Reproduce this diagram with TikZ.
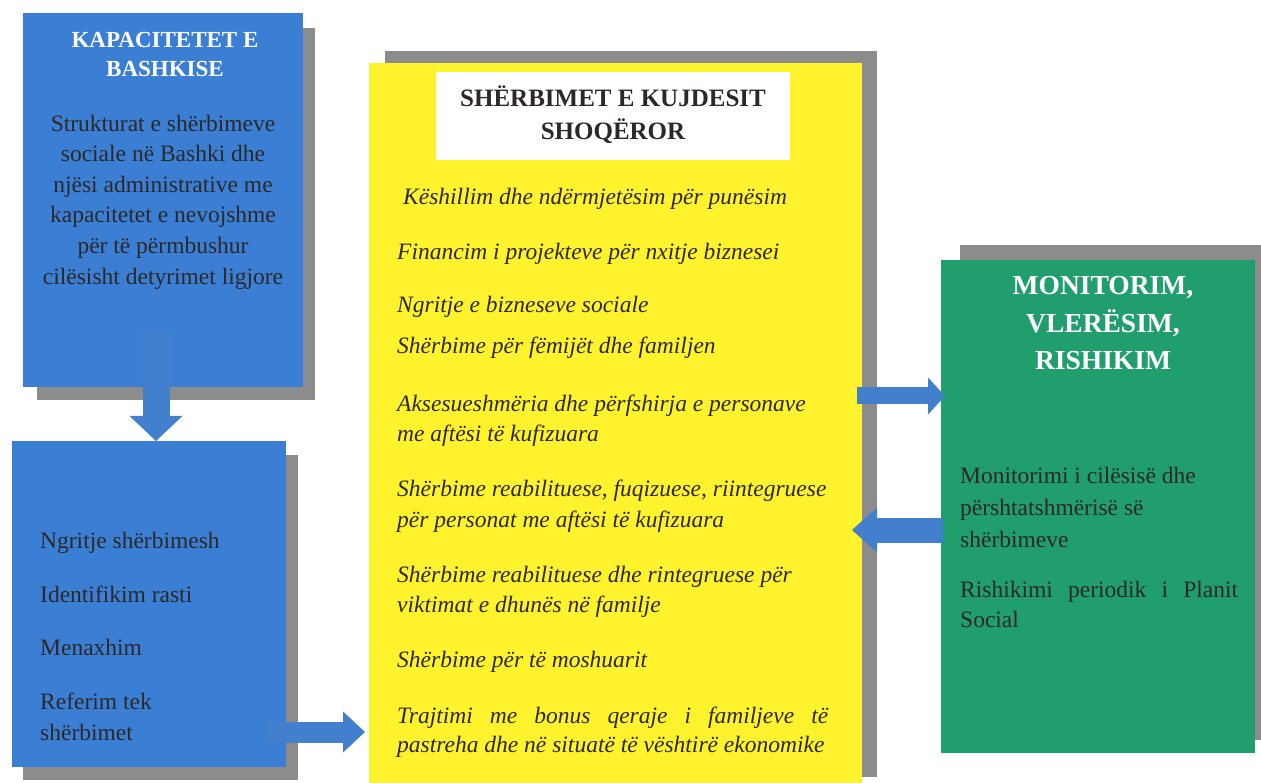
\documentclass[tikz,border=0pt]{standalone}
\usepackage{fontspec}
\setmainfont{Liberation Serif}
\usetikzlibrary{arrows.meta}
\definecolor{boxblue}{RGB}{58,127,212}
\definecolor{arrblue}{RGB}{66,128,206}
\definecolor{shadowgray}{RGB}{140,140,140}
\definecolor{yelfill}{RGB}{255,243,45}
\definecolor{grnfill}{RGB}{32,158,110}
\definecolor{txt}{RGB}{45,40,40}
\begin{document}
\begin{tikzpicture}[x=1pt,y=-1pt,
  rect/.style={inner sep=0pt,outer sep=0pt,anchor=north west,draw=none},
  shadowbox/.style={rect,fill=shadowgray},
  ttlwhite/.style={inner sep=0pt,anchor=base,text=white,font=\bfseries\fontsize{#1}{#1}\selectfont},
  ttldark/.style={inner sep=0pt,anchor=base,text=txt,font=\bfseries\fontsize{25}{25}\selectfont},
  bodyc/.style={inner sep=0pt,anchor=base,text=txt,font=\fontsize{23.5}{23.5}\selectfont},
  bodyl/.style={inner sep=0pt,anchor=base west,text=txt,font=\fontsize{23.5}{23.5}\selectfont},
  itl/.style={inner sep=0pt,anchor=base west,text=txt,font=\itshape\fontsize{23.5}{23.5}\selectfont},
  barrow/.style={draw=arrblue,line width=#1}]
\useasboundingbox (0,0) rectangle (1261,783);

% shadows
\node[shadowbox,minimum width=278pt,minimum height=372pt] (sh1) at (37,28) {};
\node[shadowbox,minimum width=275pt,minimum height=325pt] (sh2) at (23,455) {};
\node[shadowbox,minimum width=492pt,minimum height=726pt] (shy) at (385,51) {};
\node[shadowbox,minimum width=301pt,minimum height=495pt] (shg) at (960,245) {};

% boxes
\node[rect,fill=boxblue,minimum width=280pt,minimum height=374pt] (b1) at (23,13) {};
\node[rect,fill=boxblue,minimum width=274pt,minimum height=326pt] (b2) at (12,441) {};
\node[rect,fill=yelfill,minimum width=493pt,minimum height=720pt] (yel) at (369,63) {};
\node[rect,fill=white,minimum width=354pt,minimum height=88pt] (ttl) at (436,72) {};
\node[rect,fill=grnfill,minimum width=314pt,minimum height=493pt] (grn) at (941,260) {};

% top-left box text
\node[ttlwhite=23] (t1a) at (165,48) {KAPACITETET E};
\node[ttlwhite=23] (t1b) at (165,77) {BASHKISE};
\node[bodyc] (l1) at (163,132) {Strukturat e shërbimeve};
\node[bodyc] (l2) at (163,162) {sociale në Bashki dhe};
\node[bodyc] (l3) at (163,193) {njësi administrative me};
\node[bodyc] (l4) at (163,223) {kapacitetet e nevojshme};
\node[bodyc] (l5) at (163,254) {për të përmbushur};
\node[bodyc] (l6) at (163,285) {cilësisht detyrimet ligjore};

% bottom-left box text
\node[bodyl] (m1) at (40,548) {Ngritje shërbimesh};
\node[bodyl] (m2) at (40,602) {Identifikim rasti};
\node[bodyl] (m3) at (40,655) {Menaxhim};
\node[bodyl] (m4) at (40,709) {Referim tek};
\node[bodyl] (m5) at (40,740) {shërbimet};

% yellow box text
\node[ttldark] (t2a) at (613,107) {SHËRBIMET E KUJDESIT};
\node[ttldark] (t2b) at (613,140) {SHOQËROR};
\node[itl] (y1) at (403,205) {Këshillim dhe ndërmjetësim për punësim};
\node[itl] (y2) at (397,260) {Financim i projekteve për nxitje biznesei};
\node[itl] (y3) at (397,313) {Ngritje e bizneseve sociale};
\node[itl] (y4) at (397,354) {Shërbime për fëmijët dhe familjen};
\node[itl] (y5) at (397,411) {Aksesueshmëria dhe përfshirja e personave};
\node[itl] (y6) at (397,442) {me aftësi të kufizuara};
\node[itl] (y7) at (397,496) {Shërbime reabilituese, fuqizuese, riintegruese};
\node[itl] (y8) at (397,527) {për personat me aftësi të kufizuara};
\node[itl] (y9) at (397,582) {Shërbime reabilituese dhe rintegruese për};
\node[itl] (y10) at (397,612) {viktimat e dhunës në familje};
\node[itl] (y11) at (397,667) {Shërbime për të moshuarit};
\node[itl] (y12) at (397,723) {\makebox[431pt][s]{Trajtimi me bonus qeraje i familjeve të}};
\node[itl] (y13) at (397,752) {pastreha dhe në situatë të vështirë ekonomike};

% green box text
\node[ttlwhite=27.5] (t3a) at (1103,295) {MONITORIM,};
\node[ttlwhite=27.5] (t3b) at (1103,333) {VLERËSIM,};
\node[ttlwhite=27.5] (t3c) at (1103,370) {RISHIKIM};
\node[bodyl] (g1) at (960,483) {Monitorimi i cilësisë dhe};
\node[bodyl] (g2) at (960,515) {përshtatshmërisë së};
\node[bodyl] (g3) at (960,547) {shërbimeve};
\node[bodyl] (g4) at (960,597) {\makebox[278pt][s]{Rishikimi periodik i Planit}};
\node[bodyl] (g5) at (960,627) {Social};

% arrows
\coordinate (d1) at (156,330);
\draw[barrow=27pt,-{Triangle[width=53pt,length=25pt,line width=0pt]}] (d1) -- (d1 |- b2.north);
\coordinate (d2) at (265,732);
\draw[barrow=21pt,-{Triangle[width=41pt,length=22pt,line width=0pt]}] (d2) -- ([xshift=-4pt]d2 -| yel.west);
\coordinate (d3) at (857,396);
\draw[barrow=17pt,-{Triangle[width=37pt,length=17pt,line width=0pt]}] (d3) -- ([xshift=4pt]d3 -| grn.west);
\coordinate (d4) at (943,530);
\draw[barrow=25pt,-{Triangle[width=45pt,length=25pt,line width=0pt]}] (d4) -- ([xshift=-10pt]d4 -| yel.east);
\end{tikzpicture}
\end{document}
